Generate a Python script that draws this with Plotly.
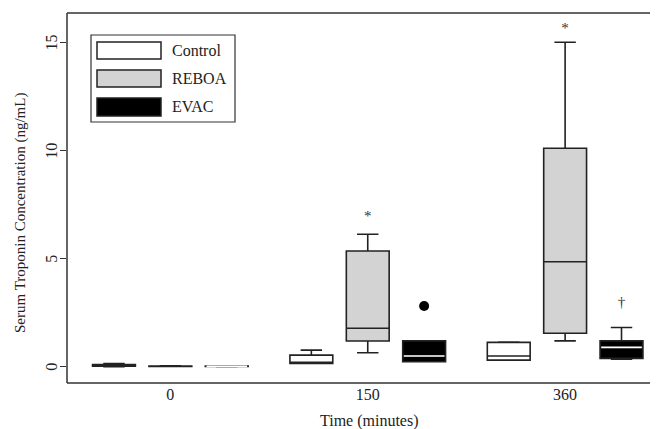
import plotly.graph_objects as go

# ---- data (ng/mL) ----
time_labels = ["0", "150", "360"]
tick_pos = [2, 5.5, 9]
y_ticks = [0, 5, 10, 15]

control_x = [1, 4.5, 8]
control_low = [0.00, 0.15, 0.31]
control_q1 = [0.03, 0.16, 0.31]
control_med = [0.06, 0.20, 0.50]
control_q3 = [0.10, 0.54, 1.13]
control_high = [0.15, 0.77, 1.15]

reboa_x = [2, 5.5, 9]
reboa_low = [0.01, 0.65, 1.20]
reboa_q1 = [0.02, 1.19, 1.55]
reboa_med = [0.03, 1.78, 4.86]
reboa_q3 = [0.04, 5.36, 10.11]
reboa_high = [0.05, 6.13, 15.02]

evac_x = [3, 6.5, 10]
evac_low = [0.00, 0.23, 0.35]
evac_q1 = [0.01, 0.23, 0.39]
evac_med = [0.02, 0.50, 0.90]
evac_q3 = [0.03, 1.20, 1.20]
evac_high = [0.04, 1.20, 1.82]

evac_outlier_x = [6.5]
evac_outlier_y = [2.81]

marks = [  # (x, y, symbol)
    (5.5, 6.94, "*"),
    (9, 15.6, "*"),
    (10, 2.95, "†"),
]

legend_names = ["Control", "REBOA", "EVAC"]
fills = ["#ffffff", "#d3d3d3", "#000000"]

BOXW = 0.76
LINE = "#222222"
FONT = "Liberation Serif"

fig = go.Figure()
for name, xs, lo, q1, md, q3, hi, fc in [
    ("Control", control_x, control_low, control_q1, control_med, control_q3, control_high, fills[0]),
    ("REBOA", reboa_x, reboa_low, reboa_q1, reboa_med, reboa_q3, reboa_high, fills[1]),
    ("EVAC", evac_x, evac_low, evac_q1, evac_med, evac_q3, evac_high, fills[2]),
]:
    fig.add_trace(go.Box(
        name=name, x=xs, q1=q1, median=md, q3=q3, lowerfence=lo, upperfence=hi,
        width=BOXW, whiskerwidth=0.5, fillcolor=fc,
        line=dict(color=LINE, width=1.6), boxpoints=False, showlegend=False,
        hoverinfo="skip",
    ))

# white median lines for the black EVAC boxes
mx, my = [], []
for x, m in zip(evac_x, evac_med):
    mx += [x - BOXW / 2 + 0.02, x + BOXW / 2 - 0.02, None]
    my += [m, m, None]
fig.add_trace(go.Scatter(x=mx, y=my, mode="lines", line=dict(color="#ffffff", width=1.6),
                         showlegend=False, hoverinfo="skip"))

fig.add_trace(go.Scatter(x=evac_outlier_x, y=evac_outlier_y, mode="markers",
                         marker=dict(color="#000000", size=10), showlegend=False, hoverinfo="skip"))

fig.add_trace(go.Scatter(x=[m[0] for m in marks], y=[m[1] for m in marks], mode="text",
                         text=[m[2] for m in marks], textfont=dict(family=FONT, size=15, color="#333333"),
                         showlegend=False, hoverinfo="skip"))

# page has an 8px body margin: figure spans page pixels 8..658, 8..429
OFF = 8
FW, FH = 658 - OFF, 429 - OFF
# plot area in page pixels: x 67..658, y 13..383
L, R, T, B = 67, 658, 13, 383
W, H = R - L, B - T


def px(x):
    return (x - L) / W


def py(y):
    return (B - y) / H


shapes = [
    dict(type="line", xref="paper", yref="paper", x0=0, x1=0, y0=0, y1=1, line=dict(color="#333333", width=1.5)),
    dict(type="line", xref="paper", yref="paper", x0=0, x1=1, y0=0, y1=0, line=dict(color="#333333", width=1.5)),
    dict(type="line", xref="paper", yref="paper", x0=0, x1=1, y0=1, y1=1, line=dict(color="#333333", width=1.5)),
    # legend frame
    dict(type="rect", xref="paper", yref="paper", x0=px(91), x1=px(235), y0=py(122), y1=py(35),
         line=dict(color="#333333", width=1.2), fillcolor="rgba(0,0,0,0)"),
]
annotations = []
sw_rows = [(42, 59), (70, 87), (98, 116)]
for (y0, y1), nm, fc in zip(sw_rows, legend_names, fills):
    shapes.append(dict(type="rect", xref="paper", yref="paper", x0=px(97), x1=px(161),
                       y0=py(y1), y1=py(y0), line=dict(color="#222222", width=1.5), fillcolor=fc))
    annotations.append(dict(xref="paper", yref="paper", x=px(170), y=py((y0 + y1) / 2), text=nm,
                            showarrow=False, xanchor="left", yanchor="middle",
                            font=dict(family=FONT, size=16, color="#222222")))

# rotated y tick labels (R style)
for v in y_ticks:
    annotations.append(dict(xref="paper", yref="y", x=px(52), y=v, text=str(v), textangle=-90,
                            showarrow=False, xanchor="center", yanchor="middle",
                            font=dict(family=FONT, size=16, color="#222222")))

annotations.append(dict(xref="paper", yref="paper", x=px(369), y=py(421), text="Time (minutes)",
                        showarrow=False, xanchor="center", yanchor="middle",
                        font=dict(family=FONT, size=16, color="#222222")))
annotations.append(dict(xref="paper", yref="paper", x=px(20), y=py(213),
                        text="Serum Troponin Concentration (ng/mL)", textangle=-90,
                        showarrow=False, xanchor="center", yanchor="middle",
                        font=dict(family=FONT, size=15, color="#222222")))

fig.update_layout(
    width=FW, height=FH,
    margin=dict(l=L - OFF, r=0, t=T - OFF, b=429 - B),
    paper_bgcolor="white", plot_bgcolor="white",
    shapes=shapes, annotations=annotations,
    xaxis=dict(range=[0.167, 10.647], tickvals=tick_pos, ticktext=time_labels, ticks="",
               showgrid=False, zeroline=False, showline=False,
               tickfont=dict(family=FONT, size=16, color="#222222")),
    yaxis=dict(range=[-0.75, 16.37], tickvals=y_ticks, ticks="outside", ticklen=6,
               tickcolor="#333333", tickwidth=1.2, showticklabels=False,
               showgrid=False, zeroline=False, showline=False),
    font=dict(family=FONT),
)

fig.write_html("out.html")
